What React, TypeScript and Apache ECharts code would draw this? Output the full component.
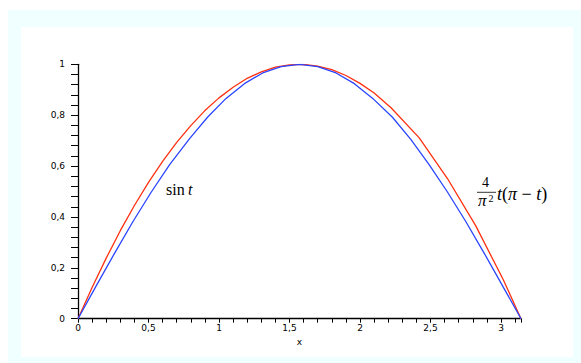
import React, { useEffect, useRef } from "react";
import * as echarts from "echarts";

// Blue curve (sin t)
const sinT = [0, 0.13, 0.26, 0.39, 0.52, 0.65, 0.79, 0.92, 1.05, 1.18, 1.31, 1.44, 1.57, 1.7, 1.83, 1.96, 2.09, 2.23, 2.36, 2.49, 2.62, 2.75, 2.88, 3.01, 3.1416];
const sinY = [0, 0.13, 0.258, 0.382, 0.498, 0.606, 0.707, 0.793, 0.866, 0.924, 0.966, 0.991, 1.0, 0.991, 0.966, 0.924, 0.866, 0.792, 0.705, 0.606, 0.498, 0.382, 0.258, 0.13, 0];

// Red curve (4/pi^2 t(pi - t))
const parT = [0, 0.1, 0.2, 0.3, 0.4, 0.5, 0.6, 0.7, 0.8, 0.9, 1.0, 1.1, 1.2, 1.3, 1.4, 1.5, 1.6, 1.7, 1.8, 1.9, 2.0, 2.1, 2.22, 2.42, 2.62, 2.82, 3.016, 3.1416];
const parY = [0, 0.123, 0.238, 0.346, 0.445, 0.536, 0.618, 0.693, 0.759, 0.818, 0.868, 0.91, 0.945, 0.97, 0.989, 0.998, 1.0, 0.993, 0.979, 0.956, 0.925, 0.887, 0.829, 0.711, 0.551, 0.366, 0.153, 0];

const xLabelStep = 0.5;
const yLabelStep = 0.2;

function fmt(v: number, step: number): string {
  const k = v / step;
  if (Math.abs(k - Math.round(k)) > 1e-6) return "";
  const r = Math.round(k) * step;
  return String(Math.round(r * 1000) / 1000).replace(".", ",");
}

export default function App() {
  const ref = useRef<HTMLDivElement>(null);
  useEffect(() => {
    if (!ref.current) return;
    const chart = echarts.init(ref.current, undefined, { renderer: "svg" });
    const labelStyle = { fontFamily: "DejaVu Sans", fontSize: 9, color: "#000" };
    const serif = "Liberation Serif";
    chart.setOption({
      animation: false,
      grid: { left: 78, right: 60, top: 64.3, bottom: 44.3, containLabel: false },
      xAxis: {
        type: "value",
        min: 0,
        max: 3.14159,
        interval: 0.1,
        name: "x",
        nameLocation: "middle",
        nameGap: 16,
        nameTextStyle: { fontFamily: "DejaVu Sans", fontSize: 9, color: "#000" },
        axisLine: { show: true, onZero: false, lineStyle: { color: "#000", width: 1.3 } },
        axisTick: { show: true, length: 4, lineStyle: { color: "#000", width: 1 } },
        splitLine: { show: false },
        axisLabel: { ...labelStyle, margin: 5, showMinLabel: true, showMaxLabel: true, hideOverlap: false, formatter: (v: number) => fmt(v, xLabelStep) },
      },
      yAxis: {
        type: "value",
        min: 0,
        max: 1,
        interval: 0.04,
        axisLine: { show: true, onZero: false, lineStyle: { color: "#000", width: 1.3 } },
        axisTick: { show: true, length: 7, lineStyle: { color: "#000", width: 1 } },
        splitLine: { show: false },
        axisLabel: { ...labelStyle, margin: 13, hideOverlap: false, formatter: (v: number) => fmt(v, yLabelStep) },
      },
      series: [
        {
          type: "line",
          data: parT.map((t, i) => [t, parY[i]]),
          showSymbol: false,
          lineStyle: { color: "#ff3010", width: 1.3 },
          z: 2,
        },
        {
          type: "line",
          data: sinT.map((t, i) => [t, sinY[i]]),
          showSymbol: false,
          lineStyle: { color: "#2a45ff", width: 1.3 },
          z: 3,
        },
      ],
      graphic: [
        {
          type: "text",
          left: 166,
          top: 181,
          style: {
            text: "{r|sin} {i|t}",
            rich: {
              r: { fontFamily: serif, fontSize: 16, fill: "#000" },
              i: { fontFamily: serif, fontSize: 16, fontStyle: "italic", fill: "#000" },
            },
          },
        },
        {
          type: "text",
          x: 485.5,
          y: 175.5,
          style: { text: "4", fontFamily: serif, fontSize: 14, fill: "#000", align: "center", verticalAlign: "top" },
        },
        {
          type: "line",
          shape: { x1: 477, y1: 192.3, x2: 496, y2: 192.3 },
          style: { stroke: "#000", lineWidth: 0.8 },
        },
        {
          type: "text",
          x: 478,
          y: 200.5,
          style: { text: "π", fontFamily: serif, fontSize: 17, fontStyle: "italic", fill: "#000", align: "left", verticalAlign: "middle" },
        },
        {
          type: "text",
          x: 488.5,
          y: 198,
          style: { text: "2", fontFamily: serif, fontSize: 10, fill: "#000", align: "left", verticalAlign: "middle" },
        },
        {
          type: "text",
          x: 497,
          y: 193.5,
          style: {
            text: "{i|t}{r|(}{i|π}{r| − }{i|t}{r|)}",
            verticalAlign: "middle",
            rich: {
              r: { fontFamily: serif, fontSize: 18, fill: "#000" },
              i: { fontFamily: serif, fontSize: 18, fontStyle: "italic", fill: "#000" },
            },
          },
        },
      ],
    });
    return () => chart.dispose();
  }, []);

  return (
    <div style={{ position: "absolute", left: 0, top: 0, width: 581, height: 363, background: "#fff" }}>
      <div style={{ position: "absolute", left: 8, top: 10, width: 573, height: 353, background: "#f0ffff" }} />
      <div style={{ position: "absolute", left: 21, top: 27, width: 552, height: 330, background: "#fff" }} />
      <div ref={ref} style={{ position: "absolute", left: 0, top: 0, width: 581, height: 363 }} />
    </div>
  );
}
